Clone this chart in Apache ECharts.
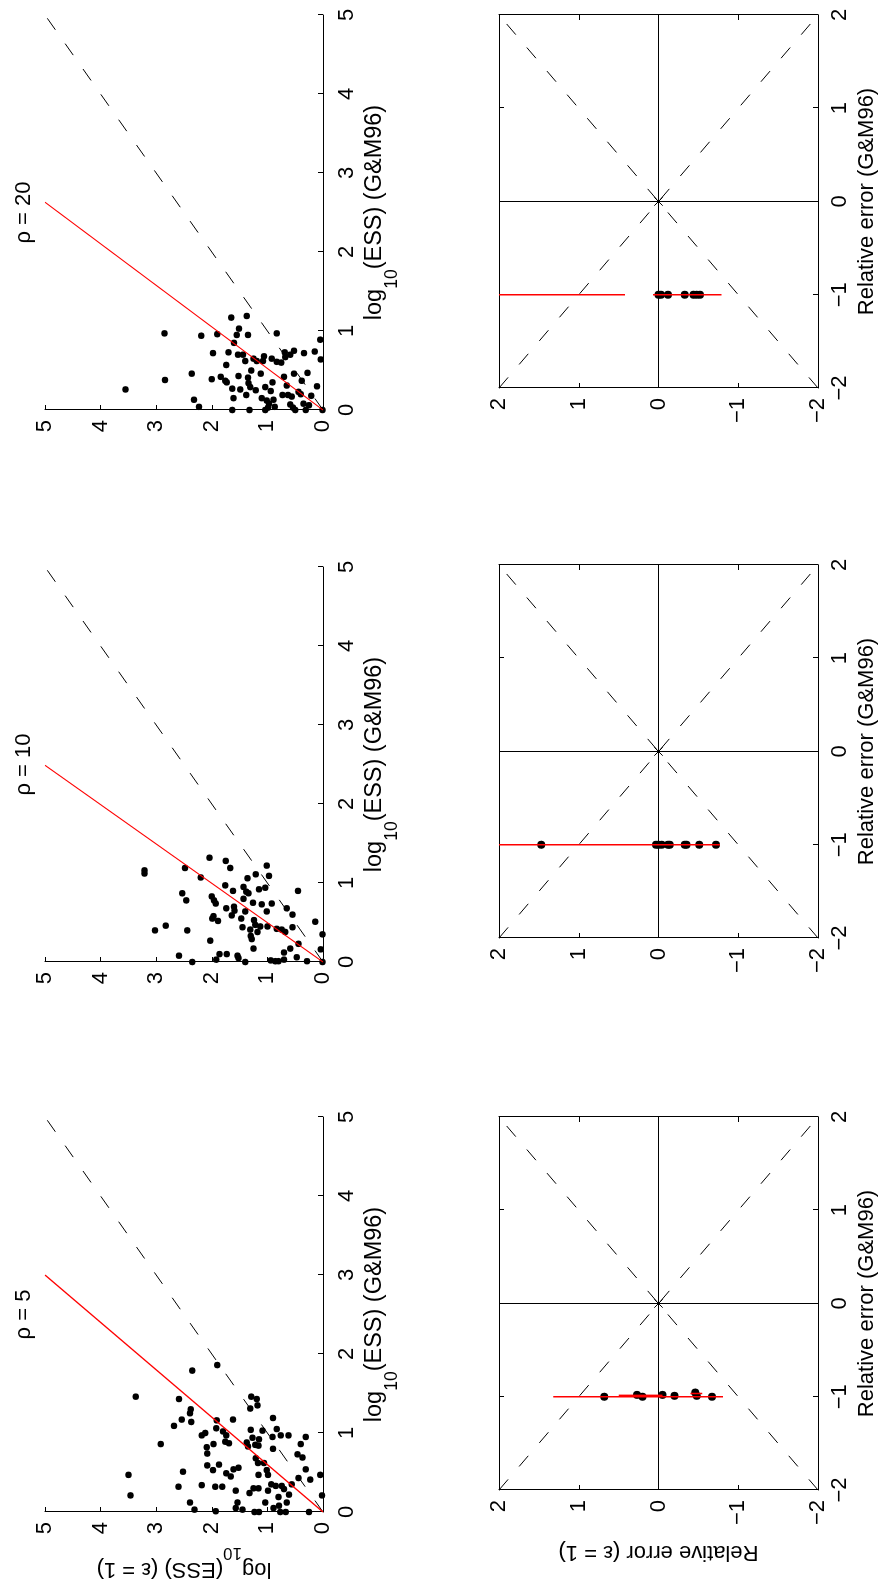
<!DOCTYPE html>
<html><head><meta charset="utf-8">
<script src="https://cdn.jsdelivr.net/npm/echarts@6/dist/echarts.min.js"></script>
<style>
html,body{margin:0;padding:0;background:#fff;overflow:hidden;width:884px;height:1585px;}
#wrap{position:absolute;left:0;top:0;width:1585px;height:884px;transform-origin:0 0;transform:translate(0,1585px) rotate(-90deg);background:#fff;}
#chart{width:1585px;height:884px;}
</style></head><body><div id="wrap"><div id="chart"></div></div>
<script>
// ---------- data ----------
const rhoTitles = ['ρ = 5', 'ρ = 10', 'ρ = 20'];
const essXName = ['log', '10', '(ESS) (G&M96)'];
const essYName = ['log', '10', '(ESS) (ε = 1)'];
const relXName = 'Relative error (G&M96)';
const relYName = 'Relative error (ε = 1)';
const essRange = [0, 5, 1];     // min, max, step
const relRange = [-2, 2, 1];

// [log10 ESS (G&M96), log10 ESS (eps = 1)]
const essRho5 = [[0.47,3.50],[0.21,3.46],[1.46,3.37],[0.86,2.92],[1.09,2.68],[0.32,2.60],[1.43,2.59],[1.17,2.54],[0.51,2.52],[0.12,2.39],[1.25,2.39],[1.30,2.38],[1.14,2.37],[1.79,2.35],[0.03,2.31],[0.34,2.18],[0.97,2.18],[1.00,2.12],[0.82,2.09],[0.74,2.08],[0.59,2.08],[0.53,1.98],[0.86,1.97],[0.32,1.94],[0.01,1.93],[1.06,1.92],[1.16,1.91],[1.86,1.90],[0.60,1.87],[1.02,1.80],[0.32,1.81],[0.89,1.76],[0.97,1.74],[0.49,1.74],[0.87,1.69],[0.45,1.66],[1.17,1.62],[0.54,1.61],[0.27,1.57],[0.05,1.57],[0.12,1.54],[0.56,1.52],[0.03,1.45],[0.88,1.37],[0.83,1.35],[0.24,1.32],[1.31,1.31],[1.04,1.30],[1.46,1.29],[0.94,1.27],[0.30,1.25],[0.00,1.23],[0.85,1.22],[0.68,1.21],[1.43,1.19],[1.35,1.18],[0.62,1.17],[0.30,1.16],[0.84,1.16],[0.92,1.15],[0.00,1.15],[0.47,1.16],[1.03,1.09],[0.62,1.06],[0.12,1.04],[0.53,1.01],[0.47,0.99],[0.27,0.99],[0.35,0.93],[0.95,0.91],[1.19,0.90],[0.80,0.90],[0.05,0.89],[0.33,0.85],[1.05,0.83],[0.19,0.80],[0.08,0.79],[0.00,0.77],[0.97,0.76],[0.33,0.74],[0.29,0.70],[0.00,0.67],[0.12,0.65],[0.97,0.62],[0.22,0.61],[0.35,0.56],[0.73,0.46],[0.43,0.44],[0.86,0.40],[0.69,0.37],[0.95,0.31],[0.54,0.31],[0.00,0.25],[0.41,0.23],[0.47,0.05],[0.21,0.02]];
const essRho10 = [[1.16,3.21],[1.12,3.21],[0.40,3.02],[0.46,2.83],[0.08,2.59],[0.87,2.53],[1.19,2.48],[0.78,2.46],[0.40,2.44],[0.00,2.35],[1.07,2.20],[1.32,2.04],[0.27,2.03],[0.83,2.00],[0.55,1.99],[0.58,1.97],[0.78,1.96],[0.74,1.93],[0.03,1.92],[0.52,1.89],[0.10,1.86],[0.97,1.76],[1.28,1.75],[0.68,1.74],[0.10,1.73],[1.19,1.67],[0.59,1.64],[0.90,1.62],[0.70,1.60],[0.65,1.59],[0.08,1.54],[0.05,1.52],[0.55,1.47],[0.44,1.45],[0.95,1.43],[0.80,1.43],[0.64,1.40],[0.00,1.40],[0.89,1.38],[1.06,1.36],[0.87,1.34],[0.41,1.31],[0.33,1.30],[0.29,1.28],[0.75,1.26],[0.17,1.25],[0.53,1.24],[0.47,1.22],[1.11,1.21],[0.38,1.18],[0.92,1.15],[0.45,1.13],[0.73,1.10],[0.94,1.04],[1.22,1.01],[0.64,1.01],[0.45,1.00],[1.09,0.97],[0.02,0.94],[0.74,0.92],[0.01,0.86],[0.42,0.83],[0.01,0.80],[0.41,0.74],[0.12,0.70],[0.03,0.70],[0.38,0.68],[0.68,0.65],[0.17,0.59],[0.60,0.55],[0.44,0.55],[0.06,0.47],[0.90,0.45],[0.23,0.44],[0.01,0.29],[0.51,0.14],[0.16,0.04],[0.35,0.01],[0.00,0.01]];
const essRho20 = [[0.26,3.55],[0.97,2.85],[0.38,2.84],[0.46,2.36],[0.13,2.32],[0.04,2.23],[0.94,2.19],[0.39,2.00],[0.72,1.98],[0.96,1.90],[0.42,1.84],[0.37,1.76],[0.57,1.74],[0.35,1.73],[0.73,1.70],[1.17,1.65],[0.00,1.63],[0.27,1.63],[0.15,1.61],[0.85,1.60],[0.95,1.55],[0.43,1.52],[1.03,1.51],[0.26,1.49],[0.70,1.53],[0.70,1.44],[0.62,1.40],[0.19,1.38],[1.19,1.37],[0.41,1.35],[0.95,1.35],[0.34,1.34],[0.00,1.32],[0.29,1.31],[0.50,1.29],[0.65,1.25],[0.25,1.21],[0.62,1.19],[0.46,1.12],[0.15,1.10],[0.68,1.06],[0.62,1.08],[0.29,1.04],[0.12,1.01],[0.00,1.04],[0.03,0.99],[0.08,0.97],[0.24,0.94],[0.65,0.92],[0.35,0.91],[0.13,0.89],[0.04,0.87],[0.97,0.83],[0.61,0.83],[0.60,0.75],[0.19,0.73],[0.42,0.70],[0.73,0.69],[0.67,0.68],[0.31,0.65],[0.19,0.63],[0.70,0.59],[0.07,0.59],[0.17,0.56],[0.03,0.54],[0.75,0.52],[0.46,0.52],[0.00,0.50],[0.23,0.44],[0.20,0.40],[0.37,0.38],[0.08,0.35],[0.72,0.34],[0.00,0.31],[0.47,0.28],[0.06,0.25],[0.18,0.21],[0.74,0.15],[0.30,0.11],[0.89,0.05],[0.64,0.04],[0.00,0.01]];

// identity reference line and fitted (red) line, as [start, end] points
const identityLine = [[0, 0], [5, 5]];
const redLine5  = [[0, 0], [3.00, 5]];
const redLine10 = [[0, 0], [2.49, 5]];
const redLine20 = [[0, 0], [2.63, 5]];

// relative errors [G&M96, eps = 1]
const relDots5  = [[-1,0.68],[-0.98,0.27],[-1,0.20],[-0.98,-0.05],[-0.99,-0.20],[-0.99,-0.48],[-0.955,-0.46],[-1,-0.67]];
const relDots10 = [[-1,1.47],[-1,0.03],[-1,0.00],[-1,-0.04],[-1,-0.12],[-1,-0.14],[-1,-0.33],[-1,-0.35],[-1,-0.51],[-1,-0.72]];
const relDots20 = [[-1,0.00],[-1,-0.03],[-1,-0.12],[-1,-0.33],[-1,-0.44],[-1,-0.48],[-1,-0.52]];
// red error bars [x, low, high]
const relBars5  = [[-1,-0.81,1.32],[-0.985,-0.05,0.50],[-0.965,-0.55,-0.40]];
const relBars10 = [[-1,-0.77,2.0]];
const relBars20 = [[-1,0.42,2.0],[-1,-0.79,0.07]];
const crossLines = [[[-2,0],[2,0]], [[0,-2],[0,2]]];
const diagLines  = [[[-2,-2],[2,2]], [[-2,2],[2,-2]]];
const originMark = [[0, 0]];

// ---------- layout ----------
const FONT = '"Liberation Sans", Arial, Helvetica, sans-serif';
const FS = 22;
const essLeft = [73, 623, 1175], essTop = 45, essW = 395, essH = 278;
const relLeft = [95, 647, 1197], relTop = 499, relW = 373, relH = 319;
const essData = [essRho5, essRho10, essRho20];
const redLines = [redLine5, redLine10, redLine20];
const relDots = [relDots5, relDots10, relDots20];
const relBars = [relBars5, relBars10, relBars20];
const DASH = [14, 17];

const fmt = v => String(v).replace('-', '\u2212');
function richSub(fs, sfs, lh) {
  return {
    n: {fontSize: fs, lineHeight: fs, verticalAlign: 'top', fontFamily: FONT, color: '#000'},
    s: {fontSize: sfs, lineHeight: lh, verticalAlign: 'bottom', fontFamily: FONT, color: '#000'}
  };
}
const subName = a => '{n|' + a[0] + '}{s|' + a[1] + '}{n|' + a[2] + '}';

function axisBase(extra) {
  return Object.assign({
    type: 'value',
    axisLine: {show: true, onZero: false, lineStyle: {color: '#000', width: 1}},
    axisTick: {show: true, inside: true, length: 5, lineStyle: {color: '#000', width: 1}},
    splitLine: {show: false},
    axisLabel: {show: true, color: '#000', fontSize: FS, fontFamily: FONT, formatter: fmt},
    nameTextStyle: {color: '#000', fontSize: FS, fontFamily: FONT}
  }, extra);
}

const grids = [], xAxes = [], yAxes = [], series = [], graphics = [];

for (let i = 0; i < 3; i++) {
  // ---- ESS scatter panel ----
  let g = grids.length;
  grids.push({left: essLeft[i], top: essTop, width: essW, height: essH});
  let xi = xAxes.length, yi = yAxes.length;
  xAxes.push(axisBase({
    gridIndex: g, position: 'bottom', min: essRange[0], max: essRange[1], interval: essRange[2],
    axisLabel: {color: '#000', fontSize: FS, fontFamily: FONT, margin: 13},
    name: subName(essXName), nameLocation: 'middle', nameGap: 40,
    nameTextStyle: {color: '#000', fontSize: 23.5, fontFamily: FONT, rich: richSub(23.5, 17.5, 38)}
  }));
  const yax = axisBase({
    gridIndex: g, position: 'left', min: essRange[0], max: essRange[1], interval: essRange[2],
    axisLabel: {color: '#000', fontSize: FS, fontFamily: FONT, margin: 10}
  });
  if (i === 0) {
    yax.name = subName(essYName); yax.nameLocation = 'middle'; yax.nameGap = 32;
    yax.nameTextStyle = {color: '#000', fontSize: FS, fontFamily: FONT, rich: richSub(FS, 17, 36)};
  }
  yAxes.push(yax);
  series.push({type: 'line', xAxisIndex: xi, yAxisIndex: yi, data: identityLine, symbol: 'none', silent: true,
    lineStyle: {color: '#000', width: 1, type: DASH}});
  series.push({type: 'line', xAxisIndex: xi, yAxisIndex: yi, data: redLines[i], symbol: 'none', silent: true,
    lineStyle: {color: '#ff0000', width: 1.2}});
  series.push({type: 'scatter', xAxisIndex: xi, yAxisIndex: yi, data: essData[i], symbol: 'circle', symbolSize: 6.5,
    itemStyle: {color: '#000', opacity: 1}});

  graphics.push({type: 'text', x: essLeft[i] + essW / 2, y: 24,
    style: {text: rhoTitles[i], fill: '#000', font: FS + 'px ' + FONT, textAlign: 'center', textVerticalAlign: 'middle'}});

  // ---- relative error panel ----
  g = grids.length;
  grids.push({left: relLeft[i], top: relTop, width: relW, height: relH});
  xi = xAxes.length; yi = yAxes.length;
  xAxes.push(axisBase({
    gridIndex: g, position: 'bottom', min: relRange[0], max: relRange[1], interval: relRange[2],
    axisLabel: {color: '#000', fontSize: FS, fontFamily: FONT, margin: 11, formatter: fmt},
    name: relXName, nameLocation: 'middle', nameGap: 38
  }));
  xAxes.push(axisBase({
    gridIndex: g, position: 'top', min: relRange[0], max: relRange[1], interval: relRange[2],
    axisLabel: {show: false}
  }));
  const ryax = axisBase({
    gridIndex: g, position: 'left', min: relRange[0], max: relRange[1], interval: relRange[2],
    axisLabel: {color: '#000', fontSize: FS, fontFamily: FONT, margin: 10, formatter: fmt}
  });
  if (i === 0) { ryax.name = relYName; ryax.nameLocation = 'middle'; ryax.nameGap = 51; }
  yAxes.push(ryax);
  yAxes.push(axisBase({
    gridIndex: g, position: 'right', min: relRange[0], max: relRange[1], interval: relRange[2],
    axisLabel: {show: false}
  }));
  crossLines.forEach(seg => series.push({type: 'line', xAxisIndex: xi, yAxisIndex: yi, data: seg, symbol: 'none', silent: true,
    lineStyle: {color: '#000', width: 1}}));
  diagLines.forEach(seg => series.push({type: 'line', xAxisIndex: xi, yAxisIndex: yi, data: seg, symbol: 'none', silent: true,
    lineStyle: {color: '#000', width: 1, type: DASH}}));
  relBars[i].forEach(b => series.push({type: 'line', xAxisIndex: xi, yAxisIndex: yi, data: [[b[0], b[1]], [b[0], b[2]]],
    symbol: 'none', silent: true, lineStyle: {color: '#ff0000', width: 1.5}}));
  series.push({type: 'scatter', xAxisIndex: xi, yAxisIndex: yi, data: originMark,
    symbol: 'path://M5,0L5,10M0,5L10,5M1.5,1.5L8.5,8.5M1.5,8.5L8.5,1.5', symbolSize: 12,
    itemStyle: {color: 'rgba(0,0,0,0)', borderColor: '#000', borderWidth: 1, opacity: 1}});
  series.push({type: 'scatter', xAxisIndex: xi, yAxisIndex: yi, data: relDots[i], symbol: 'circle', symbolSize: 8,
    itemStyle: {color: '#000', opacity: 1}});
}

const chart = echarts.init(document.getElementById('chart'), null, {renderer: 'canvas', width: 1585, height: 884});
chart.setOption({
  animation: false,
  backgroundColor: '#fff',
  textStyle: {fontFamily: FONT, color: '#000'},
  grid: grids, xAxis: xAxes, yAxis: yAxes, series: series, graphic: graphics
});
</script></body></html>
